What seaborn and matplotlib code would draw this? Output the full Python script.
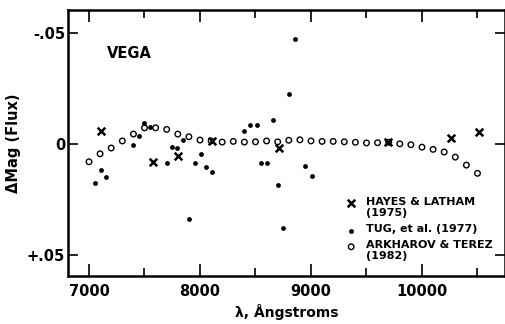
import matplotlib
matplotlib.use("Agg")
import matplotlib.pyplot as plt
import seaborn as sns
from matplotlib.ticker import MultipleLocator

# --- Data ---
hayes_wl = [7105, 7579, 7805, 8111, 8714, 9696, 10261, 10516]
hayes_mag = [-0.0059, 0.0080, 0.0054, -0.0012, 0.0017, -0.0008, -0.0026, -0.0053]

tug_wl = [7051, 7105, 7150, 7399, 7450, 7498, 7550, 7700, 7748, 7793,
          7850, 7898, 7955, 8006, 8051, 8105, 8399, 8450, 8511, 8550,
          8604, 8660, 8705, 8750, 8805, 8856, 8946, 9006]
tug_mag = [0.0176, 0.0117, 0.0150, 0.0006, -0.0036, -0.0096, -0.0078, 0.0084, 0.0015, 0.0017,
           -0.0018, 0.0336, 0.0084, 0.0046, 0.0105, 0.0125, -0.0060, -0.0084, -0.0084, 0.0087,
           0.0087, -0.0108, 0.0183, 0.0380, -0.0225, -0.0473, 0.0098, 0.0144]

ark_wl = [7000, 7100, 7200, 7300, 7400, 7500, 7600, 7700, 7800, 7900,
          8000, 8100, 8200, 8300, 8400, 8500, 8600, 8700, 8800, 8900,
          9000, 9100, 9200, 9300, 9400, 9500, 9600, 9700, 9800, 9900,
          10000, 10100, 10200, 10300, 10400, 10500]
ark_mag = [0.0080, 0.0044, 0.0018, -0.0014, -0.0045, -0.0073, -0.0073, -0.0066, -0.0045, -0.0033,
           -0.0018, -0.0014, -0.0009, -0.0012, -0.0009, -0.0010, -0.0014, -0.0010, -0.0017, -0.0019,
           -0.0014, -0.0012, -0.0012, -0.0010, -0.0008, -0.0005, -0.0006, -0.0008, -0.0001, 0.0003,
           0.0014, 0.0024, 0.0036, 0.0059, 0.0095, 0.0132]

y_ticks = [-0.05, 0, 0.05]
y_tick_labels = ['-.05', '0', '+.05']
x_ticks = [7000, 8000, 9000, 10000]

legend_labels = ['HAYES & LATHAM\n(1975)', 'TUG, et al. (1977)', 'ARKHAROV & TEREZ\n(1982)']

# --- Styling ---
sns.set_style("ticks")
plt.rcParams['font.family'] = ['DejaVu Sans']
plt.rcParams['font.weight'] = 'bold'
plt.rcParams['axes.linewidth'] = 1.8
plt.rcParams['axes.edgecolor'] = 'black'
plt.rcParams['text.color'] = 'black'
plt.rcParams['xtick.color'] = 'black'
plt.rcParams['ytick.color'] = 'black'
plt.rcParams['axes.labelcolor'] = 'black'

fig = plt.figure(figsize=(5.05, 3.24), dpi=100)
ax = fig.add_axes([0.1347, 0.148, 0.8653, 0.821])

sns.scatterplot(x=ark_wl, y=ark_mag, marker='o', s=16, facecolor='none',
                edgecolor='black', linewidth=1.0, ax=ax)
sns.scatterplot(x=tug_wl, y=tug_mag, marker='o', s=12, color='black',
                edgecolor='black', linewidth=0, ax=ax)
sns.scatterplot(x=hayes_wl, y=hayes_mag, marker='x', s=30, color='black',
                linewidth=1.8, ax=ax)

ax.set_xlim(6811, 10748)
ax.set_ylim(0.0595, -0.0604)

ax.set_xticks(x_ticks)
ax.set_xticklabels([str(t) for t in x_ticks], fontsize=10.5, fontweight='bold')
ax.xaxis.set_minor_locator(MultipleLocator(500))
ax.set_yticks(y_ticks)
ax.set_yticklabels(y_tick_labels, fontsize=10.5, fontweight='bold')

ax.tick_params(axis='x', which='major', direction='in', length=8.5, width=1.2,
               top=True, bottom=True, pad=6)
ax.tick_params(axis='x', which='minor', direction='in', length=5.5, width=1.2,
               top=True, bottom=True)
ax.tick_params(axis='y', which='major', direction='in', length=7.5, width=1.2,
               left=True, right=True, pad=2)

ax.set_xlabel('λ, Ångstroms', fontsize=10, fontweight='bold', labelpad=3)
ax.set_ylabel('ΔMag (Flux)', fontsize=10.5, fontweight='bold', labelpad=4)

ax.text(0.09, 0.835, 'VEGA', transform=ax.transAxes, fontsize=10.5,
        fontweight='bold', va='center', ha='left')

# legend drawn by hand, like the original lettering
leg_x = 0.648
leg_text_x = 0.682
leg_y = [0.273, 0.169, 0.110]
ax.scatter([leg_x], [leg_y[0]], marker='x', s=30, color='black', linewidth=1.8,
           transform=ax.transAxes, clip_on=False)
ax.scatter([leg_x], [leg_y[1]], marker='o', s=12, color='black', linewidth=0,
           transform=ax.transAxes, clip_on=False)
ax.scatter([leg_x], [leg_y[2]], marker='o', s=16, facecolor='none', edgecolor='black',
           linewidth=1.0, transform=ax.transAxes, clip_on=False)

text_tops = [0.298, 0.194, 0.135]
for label, yy in zip(legend_labels, text_tops):
    ax.text(leg_text_x, yy, label, transform=ax.transAxes, fontsize=8,
            fontweight='bold', va='top', ha='left', linespacing=1.1)

fig.savefig('out.png', dpi=100)
